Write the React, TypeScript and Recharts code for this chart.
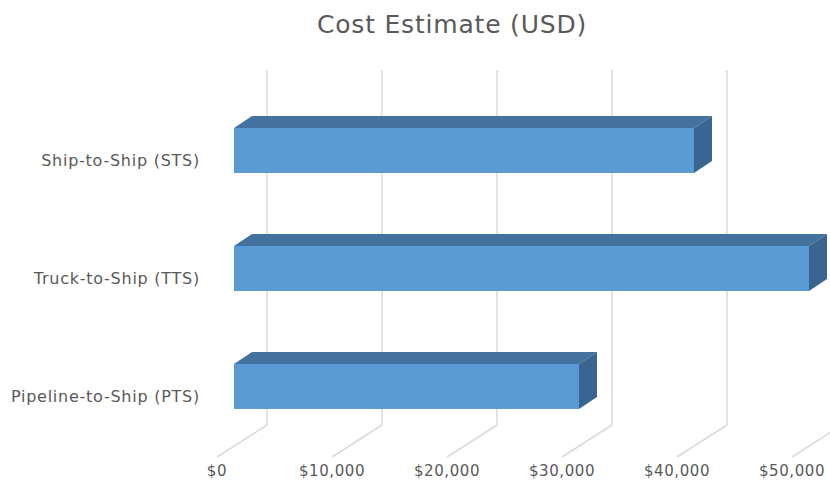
import { BarChart, Bar, XAxis, YAxis, CartesianGrid } from "recharts";

const categorias = ["Ship-to-Ship (STS)", "Truck-to-Ship (TTS)", "Pipeline-to-Ship (PTS)"];
const custos = [40000, 50000, 30000];
const ticksX = [0, 10000, 20000, 30000, 40000, 50000];

const dados = categorias.map((nome, i) => ({ nome, custo: custos[i] }));

const FRENTE = "#5b9bd5";
const TOPO = "#43729f";
const LADO = "#3a6591";
const GRADE = "#d9d9d9";
const TEXTO = "#595959";
const FONTE = "'DejaVu Sans', sans-serif";

// profundidade do efeito 3D
const DX = 18;
const DY = 12;
const RECUO = 33; // plano de fundo (grade) em relação à face frontal
const PISO = 17; // borda frontal do piso

const moeda = (v: number) => "$" + v.toLocaleString("en-US");

// eslint-disable-next-line @typescript-eslint/no-explicit-any
const Barra3D = ({ x, y, width, height }: any) => {
  const w = width ?? 0;
  const h = height ?? 0;
  return (
    <g>
      <polygon
        points={`${x},${y} ${x + DX},${y - DY} ${x + w + DX},${y - DY} ${x + w},${y}`}
        fill={TOPO}
      />
      <polygon
        points={`${x + w},${y} ${x + w + DX},${y - DY} ${x + w + DX},${y + h - DY} ${x + w},${y + h}`}
        fill={LADO}
      />
      <rect x={x} y={y} width={w} height={h} fill={FRENTE} />
    </g>
  );
};

// eslint-disable-next-line @typescript-eslint/no-explicit-any
const LinhaGrade = (props: any) => {
  const { x1, y1, y2 } = props;
  const xb = x1 + RECUO;
  const fundo = y2 - 20;
  return (
    <g key={props.key ?? `g-${x1}`}>
      <line x1={xb} y1={y1 - 21} x2={xb} y2={fundo} stroke={GRADE} strokeWidth={1.5} />
      <line x1={xb} y1={fundo} x2={x1 - PISO} y2={fundo + 32} stroke={GRADE} strokeWidth={1.5} />
    </g>
  );
};

// eslint-disable-next-line @typescript-eslint/no-explicit-any
const TickX = ({ x, y, payload }: any) => (
  <text
    x={x - PISO}
    y={y + 23}
    textAnchor="middle"
    fill={TEXTO}
    fontSize={15}
    letterSpacing={0.6}
    fontFamily={FONTE}
  >
    {moeda(payload.value)}
  </text>
);

// eslint-disable-next-line @typescript-eslint/no-explicit-any
const TickY = ({ y, payload }: any) => (
  <text
    x={200}
    y={y + 16}
    textAnchor="end"
    fill={TEXTO}
    fontSize={16}
    letterSpacing={0.75}
    fontFamily={FONTE}
  >
    {payload.value}
  </text>
);

export default function App() {
  return (
    <div style={{ position: "fixed", left: 0, top: 0, width: 830, height: 486, background: "#fff" }}>
      <div
        style={{
          position: "absolute",
          top: 10,
          left: 37,
          width: 830,
          textAlign: "center",
          fontFamily: FONTE,
          fontSize: 25,
          letterSpacing: 0.8,
          color: TEXTO,
        }}
      >
        Cost Estimate (USD)
      </div>
      <BarChart
        width={830}
        height={486}
        data={dados}
        layout="vertical"
        margin={{ top: 91, right: 21, bottom: 0, left: 0 }}
        barCategoryGap={0}
      >
        <CartesianGrid horizontal={false} vertical={LinhaGrade} />
        <XAxis
          type="number"
          domain={[0, 50000]}
          ticks={ticksX}
          tick={TickX}
          tickLine={false}
          axisLine={false}
          height={41}
          interval={0}
        />
        <YAxis
          type="category"
          dataKey="nome"
          width={234}
          tick={TickY}
          tickLine={false}
          axisLine={false}
        />
        <Bar dataKey="custo" barSize={45} shape={<Barra3D />} isAnimationActive={false} />
      </BarChart>
    </div>
  );
}
